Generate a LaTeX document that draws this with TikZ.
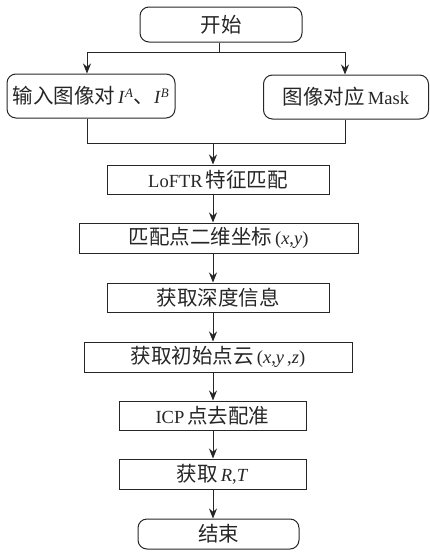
\documentclass[tikz,border=0pt]{standalone}
\usepackage{fontspec}
\setmainfont{Liberation Serif}
\newfontfamily\cjk{Noto Sans CJK SC}
\newcommand{\zh}[1]{{\fontsize{20.5}{24}\selectfont\cjk #1}}
\usetikzlibrary{arrows.meta}
\definecolor{ink}{HTML}{262626}
\begin{document}
\begin{tikzpicture}[x=1pt,y=-1pt,
  box/.style={draw=ink, text=ink, line width=1pt, inner sep=0pt, font=\fontsize{18.5}{22}\selectfont},
  rbox/.style={box, rounded corners=9pt},
  arr/.style={draw=ink, line width=1pt, -{Stealth[length=10pt,width=8pt]}},
  ln/.style={draw=ink, line width=1pt}]
\useasboundingbox (0,0) rectangle (430,552);
\node[rbox, minimum width=162pt, minimum height=35pt] (start) at (221,24.5) {\zh{开始}};
\node[rbox, minimum width=168pt, minimum height=44pt] (left) at (91,96) {\zh{输入图像对}\,\textit{I}\textsuperscript{\textit{A}}\zh{、}\textit{I}\textsuperscript{\textit{B}}};
\node[rbox, minimum width=165pt, minimum height=44pt] (right) at (346,97) {\zh{图像对应}\,Mask};
\node[box, minimum width=222pt, minimum height=29pt] (loftr) at (218,179.5) {LoFTR\,\zh{特征匹配}};
\node[box, minimum width=279pt, minimum height=30pt] (coord) at (218.5,238) {\zh{匹配点二维坐标}\,(\textit{x},\textit{y})};
\node[box, minimum width=222pt, minimum height=29pt] (depth) at (218,297.5) {\zh{获取深度信息}};
\node[box, minimum width=268pt, minimum height=30pt] (cloud) at (218,357) {\zh{获取初始点云}\,(\textit{x},\textit{y}\,,\textit{z})};
\node[box, minimum width=187pt, minimum height=29pt] (icp) at (212.5,415.5) {ICP\,\zh{点去配准}};
\node[box, minimum width=187pt, minimum height=30pt] (rt) at (212.5,474) {\zh{获取}\,\textit{R},\textit{T}};
\node[rbox, minimum width=161pt, minimum height=30pt] (end) at (218.5,534) {\zh{结束}};
\coordinate (split) at (219,52);
\coordinate (sL) at (87,52);
\coordinate (sR) at (345,52);
\coordinate (mL) at (87,143);
\coordinate (mR) at (345,143);
\coordinate (mC) at (213,143);
\draw[ln] (start.south -| split) -- (split);
\draw[ln] (sL) -- (sR);
\draw[arr] (sL) -- (sL |- left.north);
\draw[arr] (sR) -- (sR |- right.north);
\draw[ln] (mL |- left.south) -- (mL) -- (mR) -- (mR |- right.south);
\draw[arr] (mC) -- (mC |- loftr.north);
\draw[arr] (loftr.south -| mC) -- (coord.north -| mC);
\draw[arr] (coord.south -| mC) -- (depth.north -| mC);
\draw[arr] (depth.south -| mC) -- (cloud.north -| mC);
\draw[arr] (cloud.south -| mC) -- (icp.north -| mC);
\draw[arr] (icp.south -| mC) -- (rt.north -| mC);
\draw[arr] (rt.south -| mC) -- (end.north -| mC);
\end{tikzpicture}
\end{document}
